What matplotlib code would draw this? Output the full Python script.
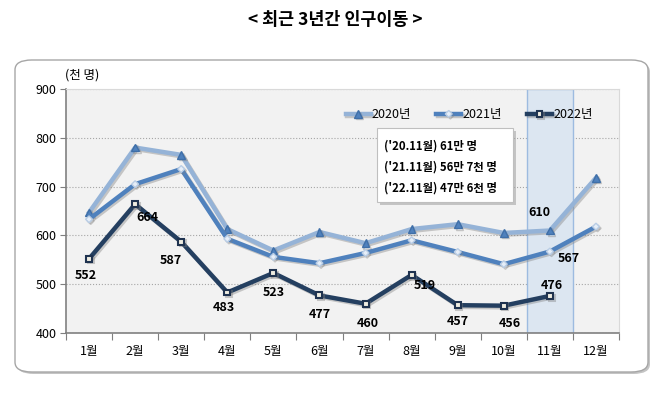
import numpy as np
import matplotlib
matplotlib.use('Agg')
import matplotlib.pyplot as plt
import matplotlib.patheffects as pe
from matplotlib.patches import FancyBboxPatch, Rectangle

plt.rcParams['font.family'] = ['Noto Sans CJK KR', 'DejaVu Sans']

months = ['1월', '2월', '3월', '4월', '5월', '6월', '7월', '8월', '9월', '10월', '11월', '12월']
y2020 = [647, 780, 765, 613, 569, 607, 584, 613, 623, 605, 610, 718]
y2021 = [633, 705, 736, 593, 556, 543, 564, 590, 566, 541, 567, 618]
y2022 = [552, 664, 587, 483, 523, 477, 460, 519, 457, 456, 476]
yticks = [400, 500, 600, 700, 800, 900]
note_lines = ["('20.11월) 61만 명", "('21.11월) 56만 7천 명", "('22.11월) 47만 6천 명"]

fig = plt.figure(figsize=(6.7, 3.93), dpi=100)
W, H = 670, 393

def fx(px):
    return px / W

def fy(py):
    return 1 - py / H

# outer rounded frame with shadow
shadow = FancyBboxPatch((fx(17), fy(374)), fx(633), fy(62) - fy(374),
                        boxstyle='round,pad=0,rounding_size=0.025',
                        transform=fig.transFigure, fc='#c4c4c4', ec='none', zorder=0)
frame = FancyBboxPatch((fx(15), fy(372)), fx(633), fy(60) - fy(372),
                       boxstyle='round,pad=0,rounding_size=0.025',
                       transform=fig.transFigure, fc='white', ec='#a6a6a6', lw=1, zorder=0.5)
fig.patches.extend([shadow, frame])

fig.text(0.5, fy(20), '< 최근 3년간 인구이동 >', ha='center', va='center',
         fontsize=12.5, fontweight='heavy')

ax = fig.add_axes([fx(66), fy(333), fx(619 - 66), fy(89) - fy(333)])
ax.set_zorder(2)
ax.set_facecolor('#f2f2f2')
x = np.arange(len(months))

ax.axvspan(9.5, 10.5, facecolor='#dce6f1', edgecolor='#9dbbe0', lw=1, zorder=1)

shadow_fx = [pe.SimpleLineShadow(offset=(1.2, -1.2), shadow_color='#7f7f7f', alpha=0.4), pe.Normal()]

l1, = ax.plot(x, y2020, color='#95b3d7', lw=3.2, marker='^', ms=5.5,
              mfc='#4f81bd', mec='#3f6fa8', label='2020년', zorder=4, path_effects=shadow_fx)
l2, = ax.plot(x, y2021, color='#4f81bd', lw=3.2, marker='D', ms=3.5,
              mfc='#e6eef8', mec='#b9cde5', label='2021년', zorder=5, path_effects=shadow_fx)
l3, = ax.plot(x[:len(y2022)], y2022, color='#243f60', lw=3.2, marker='s', ms=4.3,
              mfc='#eeece1', mec='#1f3350', mew=1.5, label='2022년', zorder=6, path_effects=shadow_fx)

# data labels (pixel offsets from points)
offs = [(-3, -17), (12, -13), (-10, -19), (-3, -15), (0, -20), (0, -19),
        (2, -20), (13, -11), (0, -16), (6, -18), (2, 10)]
for i, v in enumerate(y2022):
    ax.annotate(str(v), (x[i], v), xytext=offs[i], textcoords='offset pixels',
                ha='center', va='center', fontsize=9, fontweight='bold', zorder=8)
ax.annotate(str(y2020[10]), (x[10], y2020[10]), xytext=(-10, 18), textcoords='offset pixels',
            ha='center', va='center', fontsize=9, fontweight='bold', zorder=8)
ax.annotate(str(y2021[10]), (x[10], y2021[10]), xytext=(19, -7), textcoords='offset pixels',
            ha='center', va='center', fontsize=9, fontweight='bold', zorder=8)

ax.set_ylim(400, 900)
ax.set_yticks(yticks)
ax.set_xlim(-0.5, 11.5)
ax.set_xticks(np.arange(-0.5, 12, 1))
ax.set_xticklabels([])
ax.set_xticks(x, minor=True)
ax.set_xticklabels(months, minor=True)
ax.tick_params(axis='x', which='major', length=5, direction='out', color='#7f7f7f')
ax.tick_params(axis='x', which='minor', length=0, pad=9, labelsize=9)
ax.tick_params(axis='y', length=4, color='#7f7f7f', labelsize=9, pad=3)
ax.grid(axis='y', color='#a6a6a6', ls=':', lw=0.8, zorder=0)
ax.set_axisbelow(True)
for s in ['top', 'right']:
    ax.spines[s].set_color('#d9d9d9')
for s in ['left', 'bottom']:
    ax.spines[s].set_color('#808080')
    ax.spines[s].set_linewidth(1.2)

fig.text(fx(82), fy(75), '(천 명)', ha='center', va='center', fontsize=9)

leg = ax.legend(handles=[l1, l2, l3], ncol=3, frameon=False, loc='upper right',
                bbox_to_anchor=(fx(604), fy(97)), bbox_transform=fig.transFigure,
                fontsize=9, handlelength=2.0, handletextpad=0.1, columnspacing=2.0)

# note box
nb_sh = Rectangle((fx(380), fy(205)), fx(136), fy(128) - fy(202), transform=fig.transFigure,
                  fc='#a6a6a6', ec='none', alpha=0.6, zorder=9)
nb = Rectangle((fx(377), fy(202)), fx(136), fy(128) - fy(202), transform=fig.transFigure,
               fc='white', ec='#bfbfbf', lw=0.8, zorder=10)
fig.patches.extend([nb_sh, nb])
for k, t in enumerate(note_lines):
    fig.text(fx(384), fy(146 + 21 * k), t, ha='left', va='center', fontsize=8.2,
             fontweight='bold', zorder=11)

fig.savefig('out.png', dpi=100)
